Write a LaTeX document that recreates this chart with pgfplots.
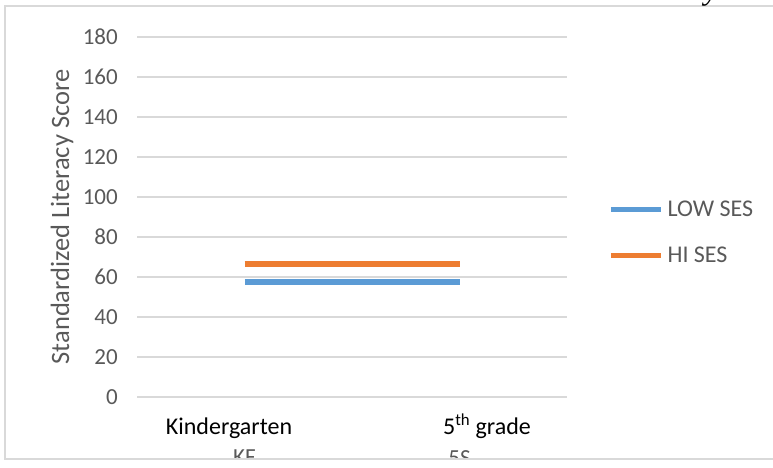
\documentclass[border=0pt]{standalone}
\usepackage{pgfplots}
\pgfplotsset{compat=1.18}
\usepackage{fontspec}
\setmainfont{Carlito}
\newfontfamily\titlefont{Liberation Serif}
\definecolor{gridgray}{HTML}{D9D9D9}
\definecolor{txtgray}{HTML}{595959}
\definecolor{lowblue}{HTML}{5B9BD5}
\definecolor{hiorange}{HTML}{ED7D31}
\newcommand{\cfont}{\fontsize{23}{27}\selectfont}
\newcommand{\lfont}{\fontsize{24}{28}\selectfont}
\begin{document}
\begin{tikzpicture}[x=1pt,y=1pt]
\useasboundingbox (0,0) rectangle (773,468);
\begin{axis}[
 at={(137pt,71pt)}, anchor=south west,
 scale only axis, width=430pt, height=360pt,
 xmin=0,xmax=2,ymin=0,ymax=180,
 xtick={0.5,1.5}, xticklabels={KF,5S},
 ytick={0,20,...,180},
 ymajorgrids, grid style={gridgray, line width=1.5pt},
 axis line style={draw=none}, tick style={draw=none},
 major tick length=0pt,
 ticklabel style={font=\cfont, text=txtgray, inner sep=0pt},
 yticklabel style={xshift=-19pt},
 xticklabel style={yshift=-53pt},
 /pgf/number format/assume math mode=true,
 ylabel={Standardized Literacy Score},
 every axis y label/.style={at={(axis description cs:-0.1744,0.5)}, rotate=90, anchor=center, font=\fontsize{26.5}{30}\selectfont, text=txtgray},
 legend style={at={(axis description cs:1.095,0.457)}, anchor=west, draw=none, fill=none, inner sep=0pt, font=\lfont, text=txtgray, row sep=29pt, nodes={inner sep=0pt}, /tikz/every odd column/.style={column sep=4pt}},
 legend cell align=left,
 legend image code/.code={\draw[#1] (0pt,0pt) -- (50pt,0pt);},
 clip=false,
]
\addplot[lowblue, line width=5.5pt] coordinates {(0.5,57.5) (1.5,57.5)};
\addlegendentry{LOW SES}
\addplot[hiorange, line width=5.5pt] coordinates {(0.5,66.5) (1.5,66.5)};
\addlegendentry{HI SES}
\end{axis}
\fill[white] (0,0) rectangle (800,9);
\draw[gridgray, line width=1.5] (800,462) -- (5,462) -- (5,9) -- (800,9);
\node[anchor=base, font=\lfont, text=black, inner sep=0pt] at (229,33) {Kindergarten};
\node[anchor=base, font=\lfont, text=black, inner sep=0pt] at (487,33) {5\textsuperscript{th} grade};
\node[anchor=base west, font=\titlefont\itshape\fontsize{31.5}{36}\selectfont, inner sep=0pt] at (25,468.3) {An Interaction between SES and Standardized Literacy Score};
\end{tikzpicture}
\end{document}
